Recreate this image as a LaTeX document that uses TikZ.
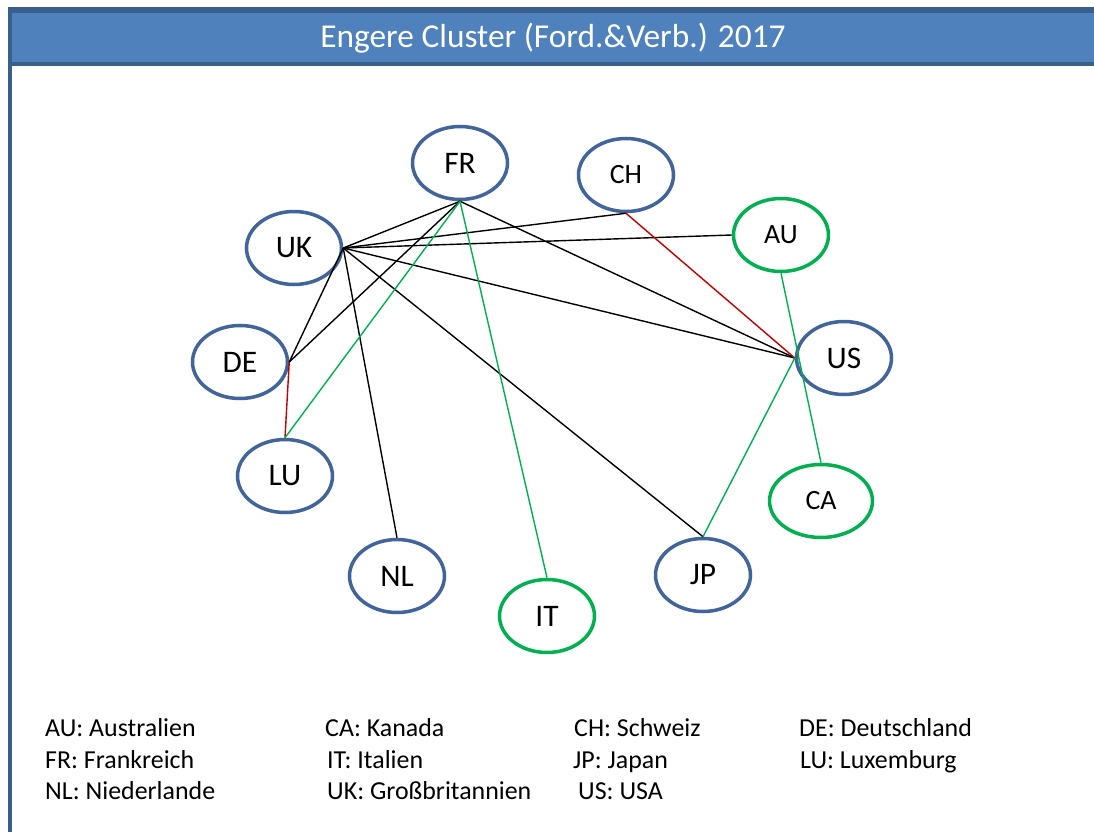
\documentclass[tikz,border=0pt]{standalone}
\usepackage{fontspec}
\setmainfont{Carlito}
\usetikzlibrary{shapes.geometric}
\definecolor{hdrfill}{HTML}{4F81BD}
\definecolor{hdrline}{HTML}{3A5F8D}
\definecolor{ringblue}{HTML}{41649A}
\definecolor{ringgreen}{HTML}{00B050}
\definecolor{linkred}{HTML}{C00000}
\tikzset{
  country/.style={ellipse, draw=ringblue, fill=white, line width=3.5bp,
    minimum width=95bp, minimum height=73bp, inner sep=0pt,
    font=\fontsize{31.5}{36}\selectfont},
  smalltext/.style={font=\fontsize{28}{32}\selectfont},
  greenring/.style={draw=ringgreen},
  link/.style={line width=1.4bp, black},
  redlink/.style={line width=1.4bp, linkred},
  greenlink/.style={line width=1.4bp, ringgreen},
  framestroke/.style={hdrline, line width=4bp},
  legend/.style={anchor=base west, inner sep=0pt, font=\fontsize{26}{30}\selectfont}
}
\begin{document}
\begin{tikzpicture}[x=1bp,y=-1bp]
\useasboundingbox (0,0) rectangle (1094,832);
\clip (0,0) rectangle (1094,832);
\fill[white] (-5,-5) rectangle (1100,840);

% title bar, running off the right edge
\fill[hdrfill] (10,10) rectangle (1100,64);
\draw[framestroke] (1100,8.5) -- (10,8.5);
\draw[framestroke] (1100,10.5) -- (10,10.5);
\draw[framestroke] (1100,63.5) -- (10,63.5);
% left side of the slide frame
\draw[framestroke] (10,6.5) -- (10,840);
\node[anchor=base, text=white, inner sep=0pt, font=\fontsize{33.5}{40}\selectfont] (title) at (553,47)
  {Engere Cluster (Ford.\&Verb.) 2017};

% countries
\node[country] (FR) at (460,163) {FR};
\node[country, smalltext] (CH) at (626,175) {CH};
\node[country] (UK) at (294,248) {UK};
\node[country, greenring, smalltext] (AU) at (781,235) {AU};
\node[country] (DE) at (240,362) {DE};
\node[country] (US) at (844,358) {US};
\node[country] (LU) at (285,476) {LU};
\node[country, greenring, smalltext, minimum width=103bp] (CA) at (821,501) {CA};
\node[country] (NL) at (397,576) {NL};
\node[country] (JP) at (703,575) {JP};
\node[country, greenring] (IT) at (547,616) {IT};

% black links
\draw[link] (UK.east) -- (FR.south);
\draw[link] (UK.east) -- (CH.south);
\draw[link] (UK.east) -- (AU.west);
\draw[link] (UK.east) -- (US.west);
\draw[link] (UK.east) -- (DE.east);
\draw[link] (UK.east) -- (NL.north);
\draw[link] (UK.east) -- (JP.north);
\draw[link] (FR.south) -- (DE.east);
\draw[link] (FR.south) -- (US.west);
% red links
\draw[redlink] (CH.south) -- (US.west);
\draw[redlink] (DE.east) -- (LU.north);
% green links
\draw[greenlink] (FR.south) -- (LU.north);
\draw[greenlink] (FR.south) -- (IT.north);
\draw[greenlink] (AU.south) -- (CA.north);
\draw[greenlink] (US.west) -- (JP.north);

% legend
\node[legend] (lAU) at (45,736) {AU: Australien};
\node[legend] (lFR) at (45,768) {FR: Frankreich};
\node[legend] (lNL) at (45,799) {NL: Niederlande};
\node[legend] (lCA) at (325,736) {CA: Kanada};
\node[legend] (lIT) at (327,768) {IT: Italien};
\node[legend] (lUK) at (327,799) {UK: Großbritannien};
\node[legend] (lCH) at (574,736) {CH: Schweiz};
\node[legend] (lJP) at (573,768) {JP: Japan};
\node[legend] (lUS) at (578,799) {US: USA};
\node[legend] (lDE) at (799,736) {DE: Deutschland};
\node[legend] (lLU) at (800,768) {LU: Luxemburg};
\end{tikzpicture}
\end{document}
